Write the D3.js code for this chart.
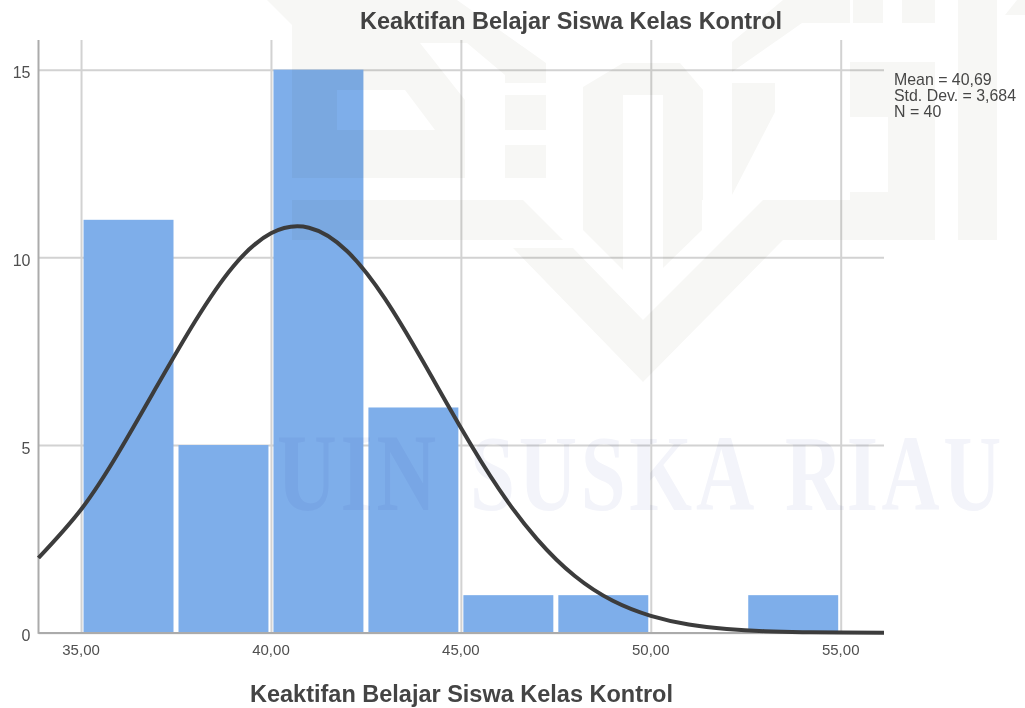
<!DOCTYPE html>
<html><head><meta charset="utf-8">
<script src="https://cdnjs.cloudflare.com/ajax/libs/d3/7.9.0/d3.min.js"></script>
<style>html,body{margin:0;padding:0;background:#fff;overflow:hidden}svg{display:block;filter:blur(0.45px)}text{font-family:"Liberation Sans",Arial,sans-serif}</style>
</head><body><svg id="c" width="1025" height="708"></svg>
<script>
const chartTitle = "Keaktifan Belajar Siswa Kelas Kontrol";
const xTitle = "Keaktifan Belajar Siswa Kelas Kontrol";
const statLines = ["Mean = 40,69", "Std. Dev. = 3,684", "N = 40"];
const binStarts = [35, 37.5, 40, 42.5, 45, 47.5, 50, 52.5];
const binEnds = [37.5, 40, 42.5, 45, 47.5, 50, 52.5, 55];
const counts = [11, 5, 15, 6, 1, 1, 0, 1];
const xTicks = [35, 40, 45, 50, 55];
const yTicks = [0, 5, 10, 15];
const curveX = [33.88,35,36,37,38,39,40,41,42,43,44,45,46,47,48,49,50,51,52,53,54,55,56.14];
const curveY = [1.99,3.28,4.82,6.57,8.29,9.75,10.64,10.79,10.17,8.9,7.23,5.46,3.83,2.5,1.51,0.85,0.45,0.22,0.1,0.04,0.015,0.005,0.001];
const watermarkWords = ["UIN", "SUSKA", "RIAU"];
const watermarkStarts = [277, 470, 785];
const watermarkWidths = [163, 288, 220];

const svg = d3.select("#c");
const x = d3.scaleLinear().domain([33.88, 56.14]).range([38.5, 884]);
const y = d3.scaleLinear().domain([0, 15.79]).range([632.7, 40]);
const fmt = d => d.toFixed(2).replace(".", ",");

// vertical and horizontal grid
const gx = svg.append("g").attr("transform", "translate(0,632.7)")
  .call(d3.axisBottom(x).tickValues(xTicks).tickSize(-592.7).tickFormat(fmt).tickPadding(13));
gx.select(".domain").remove();
gx.selectAll("line").attr("stroke", "#d2d2d2").attr("stroke-width", 2);
gx.selectAll("text").attr("fill", "#4f4f4f").attr("font-size", 15).attr("dy", "0.62em")
  .attr("dx", -0.5).style("font-family", '"Liberation Sans"');

const gy = svg.append("g").attr("transform", "translate(38.5,0)")
  .call(d3.axisLeft(y).tickValues(yTicks).tickSize(-845.5).tickFormat(d => d).tickPadding(8));
gy.select(".domain").remove();
gy.selectAll("line").attr("stroke", "#d2d2d2").attr("stroke-width", 2);
gy.selectAll("text").attr("fill", "#4f4f4f").attr("font-size", 16).attr("dy", "0.5em")
  .style("font-family", '"Liberation Sans"');

// bars
svg.append("g").selectAll("rect").data(counts).join("rect")
  .attr("x", (d, i) => x(binStarts[i]) + 2.5)
  .attr("width", (d, i) => x(binEnds[i]) - x(binStarts[i]) - 5)
  .attr("y", d => y(d))
  .attr("height", d => y(0) - y(d))
  .attr("fill", "#7eaeea");

// axis lines
svg.append("line").attr("x1", 38.5).attr("x2", 38.5).attr("y1", 40).attr("y2", 633.7).attr("stroke", "#ababab").attr("stroke-width", 2);
svg.append("line").attr("x1", 38.5).attr("x2", 884).attr("y1", 633).attr("y2", 633).attr("stroke", "#ababab").attr("stroke-width", 2);

// normal curve
const line = d3.line().x((d, i) => x(curveX[i])).y(d => y(d)).curve(d3.curveNatural);
svg.append("path").attr("d", line(curveY)).attr("fill", "none").attr("stroke", "#3c3c3c").attr("stroke-width", 4);

// titles
svg.append("text").attr("x", 571).attr("y", 29).attr("text-anchor", "middle").attr("font-size", 23.5)
  .attr("font-weight", "bold").attr("fill", "#444").attr("textLength", 422).text(chartTitle);
svg.append("text").attr("x", 461.5).attr("y", 701.5).attr("text-anchor", "middle").attr("font-size", 23.5)
  .attr("font-weight", "bold").attr("fill", "#444").attr("textLength", 423).text(xTitle);

// statistics note
svg.append("g").selectAll("text").data(statLines).join("text")
  .attr("x", 894).attr("y", (d, i) => 85 + i * 16).attr("font-size", 15.9).attr("fill", "#484848").text(d => d);

// faint background watermark, drawn over the chart as in the source image
const wm = svg.append("g").style("mix-blend-mode", "multiply");
const shapes = [
  [[267,0],[292,25],[292,178],[465,178],[465,100],[420,43],[337,43],[337,90],[405,90],[435,130],[337,130],[337,43],[467,43],[505,75],[505,83],[546,83],[546,63],[457,0]],
  [[292,200],[523,200],[563,240],[292,240]],
  [[513,248],[573,248],[643,320],[763,200],[850,200],[850,240],[783,240],[643,382]],
  [[583,200],[583,230],[623,270],[623,200]],
  [[663,200],[663,268],[702,230],[702,200]],
  [[583,200],[583,87],[623,63],[680,63],[703,90],[703,200],[663,200],[663,95],[623,95],[623,200]],
  [[505,95],[546,95],[546,130],[505,130]],
  [[505,145],[546,145],[546,178],[505,178]],
  [[732,195],[732,83],[775,83],[775,112]],
  [[732,42],[783,0],[850,0],[850,23],[802,23],[732,72]],
  [[850,62],[935,62],[935,240],[888,240],[888,117],[850,117]],
  [[850,192],[888,192],[888,240],[850,240]],
  [[853,0],[883,0],[883,23],[853,23]],
  [[902,0],[935,0],[935,23],[902,23]],
  [[958,0],[997,0],[997,240],[958,240]],
  [[1005,15],[1017,0],[1025,0],[1025,15]]
];
wm.selectAll("path").data(shapes).join("path")
  .attr("d", d => d3.line()(d) + "Z").attr("fill", "#f7f7f5").attr("fill-rule", "evenodd");
wm.selectAll("text").data(watermarkWords).join("text")
  .attr("font-size", 109).attr("font-weight", "bold")
  .style("font-family", '"Liberation Serif"').attr("fill", "#f3f4fa")
  .attr("letter-spacing", 5).text(d => d)
  .attr("transform", function (d, i) {
    const sx = watermarkWidths[i] / this.getComputedTextLength();
    return `translate(${watermarkStarts[i]},510) scale(${sx},1)`;
  });
</script></body></html>
